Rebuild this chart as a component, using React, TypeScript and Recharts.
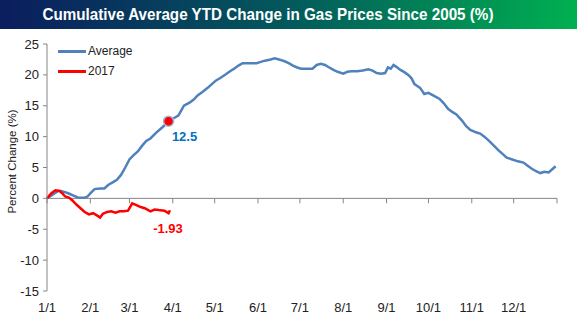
import React from "react"
import {
  LineChart,
  Line,
  XAxis,
  YAxis,
  ReferenceLine,
  ReferenceDot,
} from "recharts"

// day of year (0 = Jan 1) and cumulative average change, %
const avgDays = [
  0, 4, 8, 10, 13, 16, 19, 22, 27, 29, 31, 34, 38, 41, 44, 47, 50, 53, 56, 59, 62, 65, 68, 71, 74, 78, 81, 84, 87, 90,
  94, 96, 98, 102, 105, 108, 111, 115, 118, 121, 124, 128, 131, 134, 137, 140, 145, 150, 153, 156, 160, 163, 166, 170,
  173, 176, 179, 182, 186, 190, 193, 196, 199, 202, 205, 208, 212, 215, 218, 222, 226, 230, 233, 236, 239, 242, 244,
  246, 248, 250, 253, 256, 259, 261, 263, 265, 267, 270, 273, 277, 281, 284, 287, 290, 293, 297, 300, 303, 307, 310,
  313, 316, 320, 323, 326, 329, 333, 337, 341, 344, 347, 350, 353, 356, 359, 362, 364,
]
const avgValues = [
  0, 0.6, 1.2, 1.2, 1.0, 0.75, 0.45, 0.15, 0.1, 0.3, 0.8, 1.5, 1.6, 1.6, 2.2, 2.6, 3.0, 3.8, 5.0, 6.3, 7.0, 7.6, 8.5,
  9.3, 9.7, 10.6, 11.2, 11.8, 12.5, 12.9, 13.4, 14.2, 15.0, 15.5, 16.0, 16.7, 17.2, 17.9, 18.5, 19.1, 19.5, 20.1, 20.6,
  21.0, 21.5, 21.9, 21.9, 21.9, 22.1, 22.3, 22.5, 22.7, 22.5, 22.2, 21.9, 21.5, 21.2, 21.0, 21.0, 21.0, 21.6, 21.8,
  21.6, 21.2, 20.8, 20.5, 20.2, 20.5, 20.6, 20.6, 20.7, 20.9, 20.7, 20.3, 20.2, 20.3, 21.2, 21.0, 21.6, 21.3, 20.8,
  20.4, 19.9, 19.4, 18.5, 18.2, 17.9, 16.9, 17.1, 16.6, 16.1, 15.4, 14.5, 14.0, 13.6, 12.6, 11.7, 11.1, 10.7, 10.5,
  10.0, 9.4, 8.5, 7.8, 7.2, 6.6, 6.3, 6.0, 5.8, 5.3, 4.8, 4.4, 4.1, 4.3, 4.2, 4.8, 5.2,
]

// 2017 year to date
const ytdDays = [0, 3, 6, 9, 11, 13, 16, 18, 21, 24, 27, 30, 33, 36, 38, 40, 43, 46, 49, 52, 55, 58, 61, 64, 67, 70, 74, 77, 80, 84, 87, 88]
const ytdValues = [
  0, 0.8, 1.3, 1.2, 0.8, 0.3, 0.1, -0.3, -1.0, -1.6, -2.2, -2.6, -2.4, -2.8, -3.1, -2.5, -2.2, -2.1, -2.3, -2.1, -2.1,
  -2.0, -0.8, -1.1, -1.4, -1.6, -2.1, -1.8, -1.9, -2.0, -2.4, -1.93,
]

const monthDays = [0, 31, 59, 90, 120, 151, 181, 212, 243, 273, 304, 334]
const monthLabels = ["1/1", "2/1", "3/1", "4/1", "5/1", "6/1", "7/1", "8/1", "9/1", "10/1", "11/1", "12/1"]
const yearEnd = 365
const yTicks = [-15, -10, -5, 0, 5, 10, 15, 20, 25]

const avgMarkDay = 87
const avgMarkValue = 12.5
const ytdLastDay = 88
const ytdLastValue = -1.93

const avgData = avgDays.map((d, i) => ({ day: d, value: avgValues[i] }))
const ytdData = ytdDays.map((d, i) => ({ day: d, value: ytdValues[i] }))

const axisColor = "#868686"
const font = "'Liberation Sans', Arial, sans-serif"

const legendItems = [
  { name: "Average", color: "#4f81bd" },
  { name: "2017", color: "#ff0000" },
]

export default function App() {
  return (
    <div style={{ position: "relative", width: 577, height: 327, background: "#fff" }}>
      <style>{`body{margin:0}`}</style>
      <div
        style={{
          position: "absolute",
          left: 0,
          top: 0,
          width: 577,
          height: 29,
          background: "linear-gradient(to right, #0b1d5e, #03595c 50%, #00b050)",
          color: "#fff",
          fontFamily: font,
          fontWeight: "bold",
          fontSize: 17,
          lineHeight: "29px",
          textAlign: "center",
          whiteSpace: "nowrap",
        }}
      >
        <span style={{ display: "inline-block", transform: "translateX(-21px) scaleX(0.895)" }}>
          Cumulative Average YTD Change in Gas Prices Since 2005 (%)
        </span>
      </div>
      <div
        style={{ position: "absolute", left: 58, top: 41, fontFamily: font, fontSize: 12, color: "#222", zIndex: 1 }}
      >
        {legendItems.map((it) => (
          <div key={it.name} style={{ display: "flex", alignItems: "center", height: 20 }}>
            <span style={{ display: "inline-block", width: 28, height: 3, background: it.color, marginRight: 2 }} />
            <span>{it.name}</span>
          </div>
        ))}
      </div>
      <LineChart width={577} height={327} margin={{ top: 44, right: 20, bottom: 6, left: 0 }}>
        <XAxis
          dataKey="day"
          type="number"
          domain={[0, yearEnd]}
          ticks={monthDays}
          tickFormatter={(v) => monthLabels[monthDays.indexOf(v)]}
          axisLine={false}
          tickLine={false}
          tickSize={0}
          tickMargin={12}
          height={30}
          tick={{ fill: "#222", fontSize: 13, fontFamily: font }}
          interval={0}
        />
        <YAxis
          type="number"
          domain={[-15, 25]}
          ticks={yTicks}
          width={47}
          interval={0}
          stroke={axisColor}
          tickSize={4}
          tickMargin={4}
          tick={{ fill: "#222", fontSize: 13, fontFamily: font }}
          label={(p: any) => {
            const cy = p.viewBox.y + p.viewBox.height / 2 - 6
            return (
              <text
                x={12}
                y={cy}
                transform={`rotate(-90, 12, ${cy})`}
                textAnchor="middle"
                dominantBaseline="central"
                fill="#222"
                fontSize={11.5}
                fontFamily={font}
              >
                Percent Change (%)
              </text>
            )
          }}
        />
        <ReferenceLine y={0} stroke={axisColor} />
        {[...monthDays, yearEnd].map((d) => (
          <ReferenceLine
            key={d}
            segment={[
              { x: d, y: 0 },
              { x: d, y: -0.8 },
            ]}
            stroke={axisColor}
          />
        ))}
        <Line
          data={avgData}
          dataKey="value"
          name="Average"
          stroke="#4f81bd"
          strokeWidth={2.5}
          dot={false}
          isAnimationActive={false}
        />
        <Line
          data={ytdData}
          dataKey="value"
          name="2017"
          stroke="#ff0000"
          strokeWidth={2.5}
          dot={false}
          isAnimationActive={false}
        />
        <ReferenceDot
          x={avgMarkDay}
          y={avgMarkValue}
          r={5}
          fill="#ff0000"
          stroke="#9fb5d8"
          strokeWidth={1.5}
          label={(p: any) => (
            <text
              x={p.viewBox.x + p.viewBox.width / 2 + 16}
              y={p.viewBox.y + p.viewBox.height / 2 + 20}
              textAnchor="middle"
              fill="#0070c0"
              fontWeight="bold"
              fontSize={13}
              fontFamily={font}
            >
              {avgMarkValue}
            </text>
          )}
        />
        <ReferenceDot
          x={ytdLastDay}
          y={ytdLastValue}
          r={0}
          fill="none"
          stroke="none"
          label={(p: any) => (
            <text
              x={p.viewBox.x + p.viewBox.width / 2 - 2}
              y={p.viewBox.y + p.viewBox.height / 2 + 23}
              textAnchor="middle"
              fill="#ff0000"
              fontWeight="bold"
              fontSize={13}
              fontFamily={font}
            >
              {ytdLastValue}
            </text>
          )}
        />
      </LineChart>
    </div>
  )
}
